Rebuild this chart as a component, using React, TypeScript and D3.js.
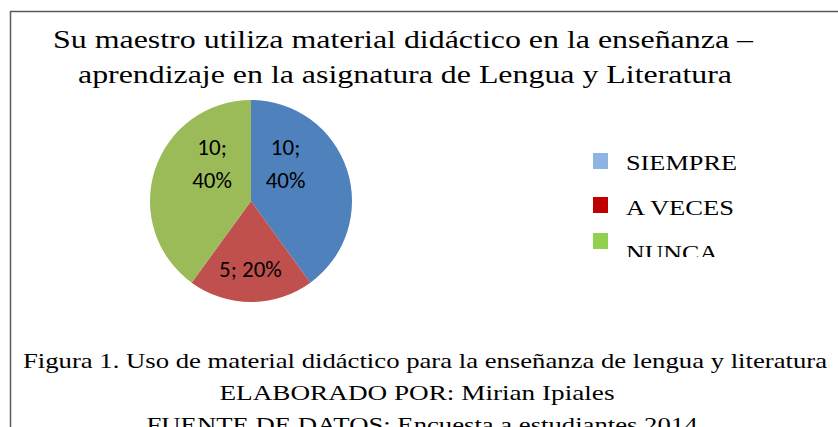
import React from "react";
import * as d3 from "d3";

const categories = ["SIEMPRE", "A VECES", "NUNCA"];
const values = [10, 5, 10];
const percents = ["40%", "20%", "40%"];
const sliceColors = ["#4F81BD", "#C0504D", "#9BBB59"];
const legendColors = ["#8DB4E2", "#C00000", "#92D050"];
const titleLines = [
  "Su maestro utiliza material didáctico en la enseñanza –",
  "aprendizaje en la asignatura de Lengua y Literatura",
];
const captionLines = [
  "Figura 1. Uso de material didáctico para la enseñanza de lengua y literatura",
  "ELABORADO POR: Mirian Ipiales",
  "FUENTE DE DATOS: Encuesta a estudiantes 2014",
];

// layout
const W = 838;
const H = 427;
const cx = 251;
const cy = 201;
const R = 101;
// label placement (angle in degrees from top clockwise, radius fraction), mimicking Excel best-fit
const labelPlacement = [
  { angle: 49.5, rf: 0.45, twoLine: true },
  { angle: 180.5, rf: 0.67, twoLine: false },
  { angle: -52.7, rf: 0.485, twoLine: true },
];
const titleWidths = [700, 654];
const captionWidths = [804, 395, 551];
const captionCenters = [425, 417, 422];
const captionBaselines = [368, 400, 432];
const legendBaselines = [170, 215, 260];
const legendTops = [153, 197, 233];
const legendWidths = [111, 108, 92];

const serif = '"Liberation Serif", "Times New Roman", Times, serif';
const sans = 'Carlito, Lato, "Liberation Sans", sans-serif';

export default function App() {
  const pie = d3.pie<number>().sort(null).value((d) => d);
  const arcs = pie(values);
  const arc = d3.arc<d3.PieArcDatum<number>>().innerRadius(0).outerRadius(R);

  return (
    <svg
      width={W}
      height={H}
      style={{ position: "absolute", left: 0, top: 0, background: "#fff" }}
    >
      <defs>
        <clipPath id="legclip">
          <rect x={580} y={130} width={200} height={127} />
        </clipPath>
      </defs>
      <rect x={0} y={0} width={W} height={H} fill="#fff" />
      {/* border */}
      <line x1={10.5} y1={11} x2={10.5} y2={H} stroke="#595959" strokeWidth={1.5} />
      <line x1={10} y1={11.5} x2={W} y2={11.5} stroke="#595959" strokeWidth={1.5} />

      {/* title */}
      {titleLines.map((t, i) => (
        <text
          key={i}
          x={i === 0 ? 403 : 405}
          y={i === 0 ? 48 : 83}
          textAnchor="middle"
          style={{ fontFamily: serif, fontSize: 26 }}
          fill="#000"
          textLength={titleWidths[i]}
          lengthAdjust="spacingAndGlyphs"
        >
          {t}
        </text>
      ))}

      {/* pie */}
      <g transform={`translate(${cx},${cy})`}>
        {arcs.map((a, i) => (
          <path key={i} d={arc(a) || ""} fill={sliceColors[i]} />
        ))}
        {arcs.map((a, i) => {
          const p = labelPlacement[i];
          const ang = (p.angle * Math.PI) / 180;
          const lx = Math.sin(ang) * R * p.rf;
          const ly = -Math.cos(ang) * R * p.rf;
          if (p.twoLine) {
            return (
              <text
                key={i}
                x={lx}
                y={ly}
                textAnchor="middle"
                style={{ fontFamily: sans, fontSize: 23 }}
                fill="#000"
              >
                <tspan x={lx} dy={-16.5}>{`${a.data};`}</tspan>
                <tspan x={lx} dy={33}>{percents[i]}</tspan>
              </text>
            );
          }
          return (
            <text
              key={i}
              x={lx}
              y={ly + 8}
              textAnchor="middle"
              style={{ fontFamily: sans, fontSize: 23 }}
              fill="#000"
            >
              {`${a.data}; ${percents[i]}`}
            </text>
          );
        })}
      </g>

      {/* legend */}
      <g clipPath="url(#legclip)">
        {categories.map((c, i) => (
          <g key={c}>
            <rect x={593} y={legendTops[i]} width={15} height={16} fill={legendColors[i]} />
            <text
              x={626}
              y={legendBaselines[i]}
              style={{ fontFamily: serif, fontSize: 22 }}
              fill="#000"
              textLength={legendWidths[i]}
              lengthAdjust="spacingAndGlyphs"
            >
              {c}
            </text>
          </g>
        ))}
      </g>

      {/* caption */}
      {captionLines.map((t, i) => (
        <text
          key={i}
          x={captionCenters[i]}
          y={captionBaselines[i]}
          textAnchor="middle"
          style={{ fontFamily: serif, fontSize: 21 }}
          fill="#000"
          textLength={captionWidths[i]}
          lengthAdjust="spacingAndGlyphs"
        >
          {t}
        </text>
      ))}
    </svg>
  );
}
